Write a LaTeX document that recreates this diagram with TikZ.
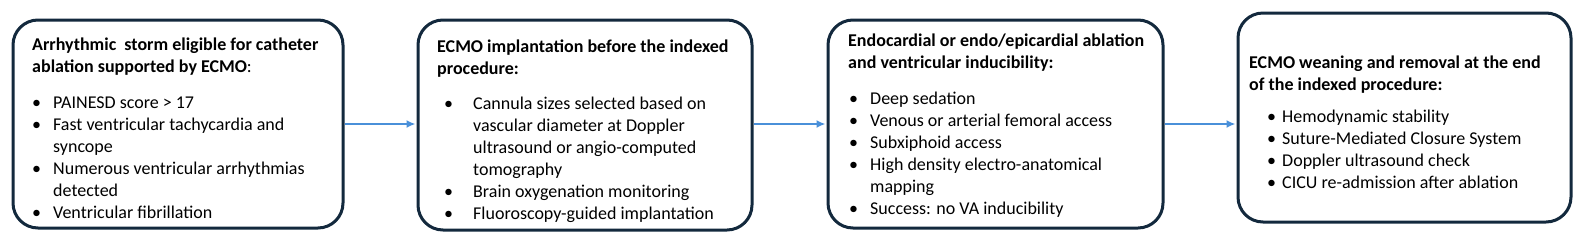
\documentclass[tikz,border=0pt]{standalone}
\usepackage{fontspec}
\setmainfont{Carlito}
\usetikzlibrary{arrows.meta}
\definecolor{boxline}{HTML}{13293D}
\definecolor{arrowblue}{HTML}{4A90D9}
\tikzset{
  stagebox/.style={draw=boxline, line width=3pt, rounded corners=25pt, inner sep=0pt, fill=white},
  stagetext/.style={anchor=base west, inner sep=0pt, font=\fontsize{18}{22}\selectfont},
  flowarrow/.style={draw=arrowblue, line width=2pt, -{Latex[length=9pt,width=8pt]}, shorten >=1pt}
}
\begin{document}
\begin{tikzpicture}[x=1pt,y=-1pt]
\useasboundingbox (0,0) rectangle (1585,242);
\node[stagebox, minimum width=330pt, minimum height=208pt] (b1) at (178,124) {};
\node[stagebox, minimum width=334pt, minimum height=210pt] (b2) at (585,125) {};
\node[stagebox, minimum width=335pt, minimum height=208pt] (b3) at (995.5,124) {};
\node[stagebox, minimum width=333pt, minimum height=209pt] (b4) at (1404.5,117.5) {};

\node[stagetext] (t1) at (32,50) {\begin{tabular}[t]{@{\hspace{0pt}}p{21pt}@{}l@{}}
\multicolumn{2}{@{}l@{}}{\bfseries Arrhythmic\ \ storm eligible for catheter}\\
\multicolumn{2}{@{}l@{}}{\bfseries ablation supported by ECMO\mdseries :}\\[14pt]
\textbullet & PAINESD score > 17\\
\textbullet & Fast ventricular tachycardia and\\
 & syncope\\
\textbullet & Numerous ventricular arrhythmias\\
 & detected\\
\textbullet & Ventricular fibrillation
\end{tabular}};

\node[stagetext] (t2) at (437,52) {\begin{tabular}[t]{@{\hspace{7pt}}p{29pt}@{}l@{}}
\multicolumn{2}{@{}l@{}}{\bfseries ECMO implantation before the indexed}\\
\multicolumn{2}{@{}l@{}}{\bfseries procedure:}\\[13pt]
\textbullet & Cannula sizes selected based on\\
 & vascular diameter at Doppler\\
 & ultrasound or angio-computed\\
 & tomography\\
\textbullet & Brain oxygenation monitoring\\
\textbullet & Fluoroscopy-guided implantation
\end{tabular}};

\node[stagetext] (t3) at (848,46) {\begin{tabular}[t]{@{\hspace{1pt}}p{21pt}@{}l@{}}
\multicolumn{2}{@{}l@{}}{\bfseries Endocardial or endo/epicardial ablation}\\
\multicolumn{2}{@{}l@{}}{\bfseries and ventricular inducibility:}\\[14pt]
\textbullet & Deep sedation\\
\textbullet & Venous or arterial femoral access\\
\textbullet & Subxiphoid access\\
\textbullet & High density electro-anatomical\\
 & mapping\\
\textbullet & Success: no VA inducibility
\end{tabular}};

\node[stagetext] (t4) at (1249,68) {\begin{tabular}[t]{@{\hspace{18pt}}p{15pt}@{}l@{}}
\multicolumn{2}{@{}l@{}}{\bfseries ECMO weaning and removal at the end}\\
\multicolumn{2}{@{}l@{}}{\bfseries of the indexed procedure:}\\[10pt]
\textbullet & Hemodynamic stability\\
\textbullet & Suture-Mediated Closure System\\
\textbullet & Doppler ultrasound check\\
\textbullet & CICU re-admission after ablation
\end{tabular}};

\draw[flowarrow] (b1.east) -- (b1.east -| b2.west);
\draw[flowarrow] (b2.east |- b1.east) -- (b3.west);
\draw[flowarrow] (b3.east) -- (b3.east -| b4.west);
\end{tikzpicture}
\end{document}
